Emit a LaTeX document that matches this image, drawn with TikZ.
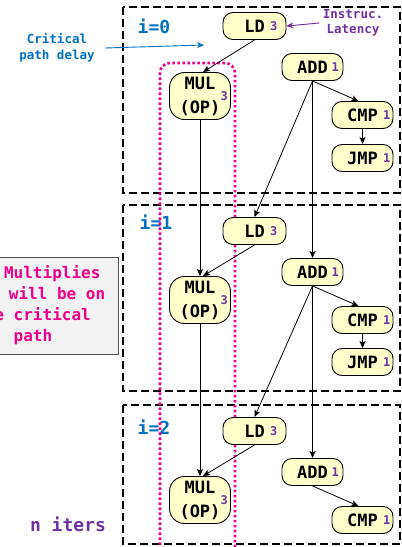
\documentclass[tikz,border=0pt]{standalone}
\usepackage{fontspec}
\setmonofont{DejaVu Sans Mono}
\usetikzlibrary{arrows.meta}

\definecolor{cpblue}{RGB}{0,112,192}
\definecolor{latpurple}{RGB}{112,48,160}
\definecolor{opfill}{RGB}{255,255,204}
\definecolor{notegray}{RGB}{242,242,242}
\definecolor{noteline}{RGB}{80,80,80}

\tikzset{
  op/.style={draw=black, line width=0.9pt, fill=opfill, rounded corners=10pt,
    minimum width=61pt, minimum height=27pt, inner sep=0pt,
    font=\ttfamily\bfseries\fontsize{17}{24}\selectfont},
  mulop/.style={op, minimum height=47pt, rounded corners=15pt, align=center},
  lat/.style={anchor=east, inner sep=0pt, xshift=-3pt, text=latpurple,
    font=\ttfamily\bfseries\fontsize{12}{12}\selectfont},
  dep/.style={-{Stealth[length=7pt,width=6pt,inset=1.5pt]}, line width=0.8pt},
  iterbox/.style={draw, line width=2.2pt, dash pattern=on 8pt off 4pt},
  iterlbl/.style={text=cpblue, font=\ttfamily\bfseries\fontsize{18}{18}\selectfont},
  critpath/.style={draw=magenta, line width=2.6pt, dash pattern=on 2.6pt off 2.4pt, rounded corners=10pt},
}

\begin{document}
\begin{tikzpicture}[x=1pt,y=-1pt]
\useasboundingbox (0,0) rectangle (402,547);

% iteration frames
\draw[iterbox] (123,7) rectangle (400,193);
\draw[iterbox] (123,205) rectangle (400,391);
\draw[iterbox] (123,405) rectangle (400,544);
\node[iterlbl] (i0) at (154,26) {i=0};
\node[iterlbl] (i1) at (156,222) {i=1};
\node[iterlbl] (i2) at (154,427) {i=2};

% critical path
\draw[critpath] (160,560) -- (160,63) -- (235,63) -- (235,560);

% i=0
\node[op, minimum width=63pt, label={[lat,xshift=-6pt]east:3}] (ld0) at (254.5,26) {LD};
\node[mulop, label={[lat]east:3}] (mul0) at (200,96) {MUL\\(OP)};
\node[op, label={[lat,xshift=-1.5pt]east:1}] (add0) at (312.5,67) {ADD};
\node[op, label={[lat]east:1}] (cmp0) at (362.5,115) {CMP};
\node[op, label={[lat]east:1}] (jmp0) at (362.5,158) {JMP};

% i=1
\node[op, minimum width=63pt, label={[lat,xshift=-6pt]east:3}] (ld1) at (254.5,231) {LD};
\node[mulop, label={[lat]east:3}] (mul1) at (200,300) {MUL\\(OP)};
\node[op, label={[lat,xshift=-1.5pt]east:1}] (add1) at (312.5,272) {ADD};
\node[op, label={[lat]east:1}] (cmp1) at (362.5,320) {CMP};
\node[op, label={[lat]east:1}] (jmp1) at (362.5,362) {JMP};

% i=2
\node[op, minimum width=63pt, label={[lat,xshift=-6pt]east:3}] (ld2) at (254.5,431) {LD};
\node[mulop, label={[lat]east:3}] (mul2) at (200,500) {MUL\\(OP)};
\node[op, label={[lat,xshift=-1.5pt]east:1}] (add2) at (312.5,472) {ADD};
\node[op, label={[lat]east:1}] (cmp2) at (362.5,520) {CMP};

% dependences
\draw[dep] (ld0.south) -- ([xshift=3pt]mul0.north);
\draw[dep] (add0.south) -- ([xshift=-4pt]cmp0.north);
\draw[dep] (cmp0) -- (jmp0);
\draw[dep] (add0.south) -- (ld1.north);
\draw[dep] (add0) -- (add1);
\draw[dep] (mul0) -- (mul1);
\draw[dep] (ld1.south) -- ([xshift=3pt]mul1.north);
\draw[dep] (add1.south) -- ([xshift=-4pt]cmp1.north);
\draw[dep] (cmp1) -- (jmp1);
\draw[dep] (add1.south) -- (ld2.north);
\draw[dep] (add1) -- (add2);
\draw[dep] (mul1) -- (mul2);
\draw[dep] (ld2.south) -- ([xshift=3pt]mul2.north);
\draw[dep] (add2.south) -- ([xshift=-4pt]cmp2.north);

% notes
\node[text=cpblue, align=center, font=\ttfamily\bfseries\fontsize{12.5}{16}\selectfont] (crit) at (57,48) {Critical\\path delay};
\coordinate (critend) at (204,45);
\draw[-{Stealth[length=7pt,width=6pt]}, cpblue, line width=0.9pt] ([xshift=7pt]crit.east) -- (critend);

\node[text=latpurple, align=center, font=\ttfamily\bfseries\fontsize{12.5}{15}\selectfont] (latnote) at (353,23) {Instruc.\\Latency};
\draw[-{Stealth[length=7pt,width=6pt]}, latpurple, line width=0.9pt] (latnote.west) -- (ld0.east);

\node[draw=noteline, line width=0.8pt, fill=notegray, text=magenta, align=center,
  minimum width=170pt, minimum height=97pt,
  font=\ttfamily\bfseries\fontsize{16}{21}\selectfont] (note) at (33,305.5)
  {All Multiplies\\(OP) will be on\\the critical\\path};

\node[text=latpurple, font=\ttfamily\bfseries\fontsize{18}{18}\selectfont] (niters) at (68,524) {n iters};
\end{tikzpicture}
\end{document}
